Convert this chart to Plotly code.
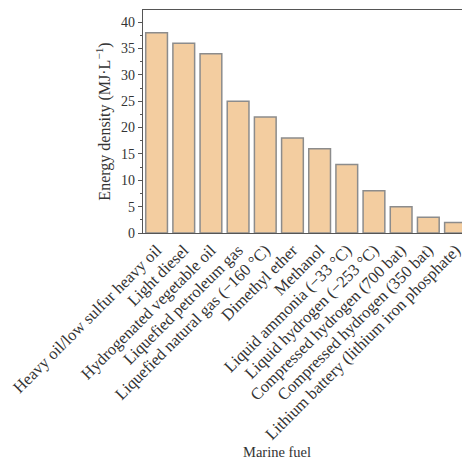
import plotly.graph_objects as go

fuels = [
    "Heavy oil/low sulfur heavy oil",
    "Light diesel",
    "Hydrogenated vegetable oil",
    "Liquefied petroleum gas",
    "Liquefied natural gas (\u2212160 \u00b0C)",
    "Dimethyl ether",
    "Methanol",
    "Liquid ammonia (\u221233 \u00b0C)",
    "Liquid hydrogen (\u2212253 \u00b0C)",
    "Compressed hydrogen (700 bat)",
    "Compressed hydrogen (350 bat)",
    "Lithium battery (lithium iron phosphate)",
]
energy_density = [38, 36, 34, 25, 22, 18, 16, 13, 8, 5, 3, 2]

FONT = "Liberation Serif, Times New Roman, serif"
AXIS_COLOR = "#555555"
TEXT_COLOR = "#333333"

# plot area in pixels
LEFT, TOP, BOTTOM = 143, 10, 230
W, H = 464, 463
pw = W - LEFT
ph = H - TOP - BOTTOM

fig = go.Figure(
    go.Bar(
        x=list(range(len(fuels))),
        y=energy_density,
        width=0.8,
        marker=dict(color="#F3CDA0", line=dict(color="#8C8C8C", width=1.5)),
    )
)

fig.update_layout(
    width=W,
    height=H,
    margin=dict(l=LEFT, r=0, t=TOP, b=BOTTOM),
    paper_bgcolor="white",
    plot_bgcolor="white",
    showlegend=False,
    font=dict(family=FONT, size=14, color=TEXT_COLOR),
    annotations=[
        dict(
            text="Marine fuel",
            x=(278 - LEFT) / pw,
            y=(H - BOTTOM - 452) / ph,
            xref="paper", yref="paper",
            yanchor="middle",
            showarrow=False,
            font=dict(family=FONT, size=14.5, color=TEXT_COLOR),
        )
    ],
)

fig.update_xaxes(
    range=[-0.5, 11.24],
    tickmode="array",
    tickvals=list(range(len(fuels))),
    ticktext=fuels,
    tickangle=-45,
    ticklabeloverflow="allow",
    tickfont=dict(family=FONT, size=16.5, color=TEXT_COLOR),
    showline=True,
    linecolor=AXIS_COLOR,
    linewidth=1.2,
    mirror=True,
    ticks="",
    showgrid=False,
    zeroline=False,
)

fig.update_yaxes(
    range=[0, 42.3],
    tick0=0,
    dtick=5,
    ticks="outside",
    ticklen=4,
    tickcolor=AXIS_COLOR,
    tickwidth=1,
    minor=dict(dtick=2.5, ticks="outside", ticklen=2, tickcolor=AXIS_COLOR),
    showline=True,
    linecolor=AXIS_COLOR,
    linewidth=1.2,
    showgrid=False,
    zeroline=False,
    tickfont=dict(family=FONT, size=14, color=TEXT_COLOR),
    title=dict(
        text="Energy density (MJ\u00b7L<sup>\u22121</sup>)",
        font=dict(family=FONT, size=16, color=TEXT_COLOR),
        standoff=6,
    ),
)

fig.write_html("out.html")
